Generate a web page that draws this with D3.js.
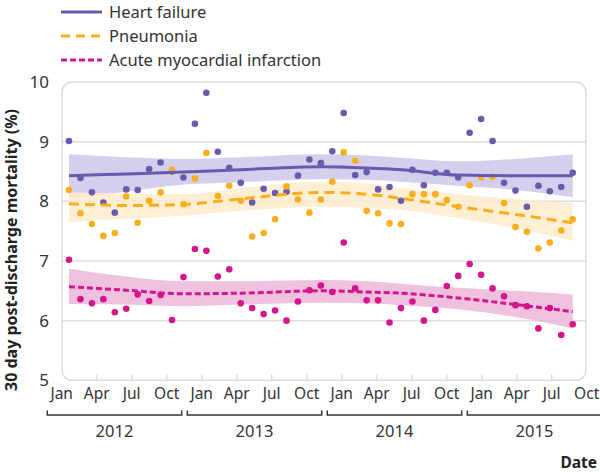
<!DOCTYPE html>
<html>
<head>
<meta charset="utf-8">
<script src="https://cdn.jsdelivr.net/npm/d3@7"></script>
<style>
  html, body { margin: 0; padding: 0; background: #fff; }
  svg { display: block; font-family: "Noto Sans", "Open Sans", sans-serif; }
</style>
</head>
<body>
<svg id="chart" width="600" height="472"></svg>
<script>
// ---- data (monthly, Jan 2012 .. Sep 2015) ----
const seriesNames = ["Heart failure", "Pneumonia", "Acute myocardial infarction"];
const heartFailure = [9.01,8.39,8.15,7.98,7.81,8.20,8.19,8.54,8.65,8.50,8.40,9.30,
  9.82,8.83,8.56,8.31,7.98,8.21,8.14,8.16,8.43,8.70,8.64,8.84,
  9.48,8.44,8.49,8.20,8.24,8.01,8.53,8.27,8.48,8.48,8.40,9.15,
  9.38,9.01,8.31,8.18,7.91,8.26,8.17,8.24,8.48];
const pneumonia = [8.19,7.80,7.62,7.42,7.47,8.08,7.64,8.01,8.15,8.53,7.95,8.38,
  8.81,8.09,8.26,8.01,7.41,7.47,7.70,8.25,8.03,7.81,8.03,8.33,
  8.82,8.68,7.84,7.80,7.63,7.62,8.12,8.12,8.12,8.02,7.91,8.27,
  8.40,8.41,7.97,7.57,7.49,7.21,7.31,7.51,7.70];
const ami = [7.02,6.36,6.29,6.36,6.14,6.20,6.44,6.33,6.43,6.01,6.73,7.20,
  7.17,6.74,6.86,6.29,6.21,6.11,6.17,6.00,6.32,6.51,6.59,6.48,
  7.31,6.54,6.34,6.34,5.97,6.21,6.32,6.00,6.18,6.58,6.75,6.95,
  6.77,6.54,6.41,6.26,6.24,5.87,6.21,5.76,5.94];

// smoothed trend and confidence band, read at knot months
const knotMonths = [0, 5, 10, 15, 22, 26, 29, 34, 39, 44];
const hfFit   = [8.43, 8.46, 8.49, 8.53, 8.58, 8.56, 8.53, 8.44, 8.43, 8.43];
const hfLow   = [8.05, 8.16, 8.28, 8.32, 8.37, 8.36, 8.33, 8.26, 8.19, 8.07];
const hfHigh  = [8.79, 8.74, 8.71, 8.74, 8.79, 8.77, 8.73, 8.67, 8.71, 8.79];
const pnFit   = [7.96, 7.93, 7.95, 8.04, 8.15, 8.12, 8.05, 7.91, 7.78, 7.64];
const pnLow   = [7.65, 7.71, 7.76, 7.84, 7.91, 7.89, 7.86, 7.72, 7.55, 7.34];
const pnHigh  = [8.15, 8.13, 8.12, 8.22, 8.33, 8.30, 8.22, 8.12, 8.04, 7.97];
const amiFit  = [6.57, 6.51, 6.45, 6.46, 6.50, 6.48, 6.46, 6.38, 6.27, 6.15];
const amiLow  = [6.28, 6.27, 6.24, 6.27, 6.30, 6.29, 6.26, 6.19, 6.06, 5.87];
const amiHigh = [6.87, 6.74, 6.66, 6.66, 6.68, 6.66, 6.62, 6.55, 6.50, 6.44];

const monthLabels = ["Jan", "Apr", "Jul", "Oct"];
const years = ["2012", "2013", "2014", "2015"];
const yTicks = [5, 6, 7, 8, 9, 10];

// ---- layout ----
const svg = d3.select("#chart");
const plot = { left: 62, right: 586, top: 82, bottom: 380.3 };
const y = d3.scaleLinear().domain([5, 10]).range([plot.bottom, plot.top]);
const xData = d3.scaleLinear().domain([0, 44]).range([69, 572.7]);     // data months
const xAxis = d3.scaleLinear().domain([0, 45]).range([61.7, 586.7]);   // axis months

const textCol = "#333";
const colors = {
  hf:  { line: "#6a5aae", band: "#cdc7ea" },
  pn:  { line: "#fbae1a", band: "#feebcc" },
  ami: { line: "#d5158d", band: "#ecb6d8" }
};

// frame
svg.append("rect")
  .attr("x", plot.left).attr("y", plot.top)
  .attr("width", plot.right - plot.left).attr("height", plot.bottom - plot.top)
  .attr("rx", 10).attr("ry", 10)
  .attr("fill", "none").attr("stroke", "#dcdce3").attr("stroke-width", 1.5);

// gridlines
svg.append("g").selectAll("line")
  .data(yTicks.filter(t => t > 5 && t < 10))
  .join("line")
  .attr("x1", plot.left).attr("x2", plot.right)
  .attr("y1", d => y(d)).attr("y2", d => y(d))
  .attr("stroke", "#dcdce3").attr("stroke-width", 1.5);

// y labels
svg.append("g").selectAll("text")
  .data(yTicks).join("text")
  .attr("x", 49).attr("y", d => y(d)).attr("dy", "0.36em")
  .attr("text-anchor", "end").attr("font-size", 17).attr("fill", textCol)
  .text(d => d);

// y title
svg.append("text")
  .attr("transform", "translate(17," + 250 + ") rotate(-90)")
  .attr("text-anchor", "middle").attr("font-size", 16).attr("font-weight", "bold")
  .attr("fill", "#222")
  .text("30 day post-discharge mortality (%)");

// x ticks (quarters) at plot bottom
const quarterIdx = d3.range(0, 46, 3);
svg.append("g").selectAll("line")
  .data(quarterIdx.filter(m => m > 0 && m < 45))
  .join("line")
  .attr("x1", d => xAxis(d)).attr("x2", d => xAxis(d))
  .attr("y1", plot.bottom).attr("y2", plot.bottom - 6)
  .attr("stroke", "#dcdce3").attr("stroke-width", 1.5);

// x month labels
svg.append("g").selectAll("text")
  .data(quarterIdx).join("text")
  .attr("x", d => xAxis(d)).attr("y", 399)
  .attr("text-anchor", "middle").attr("font-size", 15.5).attr("fill", textCol)
  .text(d => monthLabels[(d % 12) / 3]);

// year brackets
const yearG = svg.append("g");
years.forEach((yr, i) => {
  const x0 = xAxis(i * 12) - 14.4, x1 = xAxis(i * 12) + 120;
  yearG.append("path")
    .attr("d", `M${x0},410.5 V415 H${x1} V410.5`)
    .attr("fill", "none").attr("stroke", "#333").attr("stroke-width", 1.5);
  yearG.append("text")
    .attr("x", (x0 + x1) / 2).attr("y", 437)
    .attr("text-anchor", "middle").attr("font-size", 16.5).attr("fill", textCol)
    .text(yr);
});

// x title
svg.append("text")
  .attr("x", 597).attr("y", 468).attr("text-anchor", "end")
  .attr("font-size", 15.5).attr("font-weight", "bold").attr("fill", "#222")
  .text("Date");

// ---- bands ----
function band(low, high, col) {
  const area = d3.area()
    .x((d, i) => xData(knotMonths[i]))
    .y0((d, i) => y(low[i])).y1((d, i) => y(high[i]))
    .curve(d3.curveMonotoneX);
  svg.append("path").datum(knotMonths).attr("d", area)
    .attr("fill", col).attr("fill-opacity", 0.85);
}
band(hfLow, hfHigh, colors.hf.band);
band(pnLow, pnHigh, colors.pn.band);
band(amiLow, amiHigh, colors.ami.band);

// ---- points ----
function points(vals, col) {
  svg.append("g").selectAll("circle")
    .data(vals).join("circle")
    .attr("cx", (d, i) => xData(i)).attr("cy", d => y(d))
    .attr("r", 3.3).attr("fill", col);
}
points(heartFailure, colors.hf.line);
points(pneumonia, colors.pn.line);
points(ami, colors.ami.line);

// ---- trend lines ----
function trend(fit, col, dash) {
  const line = d3.line()
    .x((d, i) => xData(knotMonths[i])).y((d, i) => y(fit[i]))
    .curve(d3.curveMonotoneX);
  svg.append("path").datum(knotMonths).attr("d", line)
    .attr("fill", "none").attr("stroke", col).attr("stroke-width", 3)
    .attr("stroke-dasharray", dash);
}
trend(hfFit, colors.hf.line, null);
trend(pnFit, colors.pn.line, "10,6");
trend(amiFit, colors.ami.line, "6,3");

// ---- legend ----
const legendItems = [
  { name: seriesNames[0], col: colors.hf.line, dash: null, y: 12 },
  { name: seriesNames[1], col: colors.pn.line, dash: "9,6", y: 36 },
  { name: seriesNames[2], col: colors.ami.line, dash: "6,3", y: 60 }
];
const lg = svg.append("g");
legendItems.forEach(it => {
  lg.append("line")
    .attr("x1", 61).attr("x2", 102).attr("y1", it.y).attr("y2", it.y)
    .attr("stroke", it.col).attr("stroke-width", 3)
    .attr("stroke-dasharray", it.dash);
  lg.append("text")
    .attr("x", 109).attr("y", it.y).attr("dy", "0.36em")
    .attr("font-size", 16.5).attr("fill", textCol)
    .text(it.name);
});
</script>
</body>
</html>
